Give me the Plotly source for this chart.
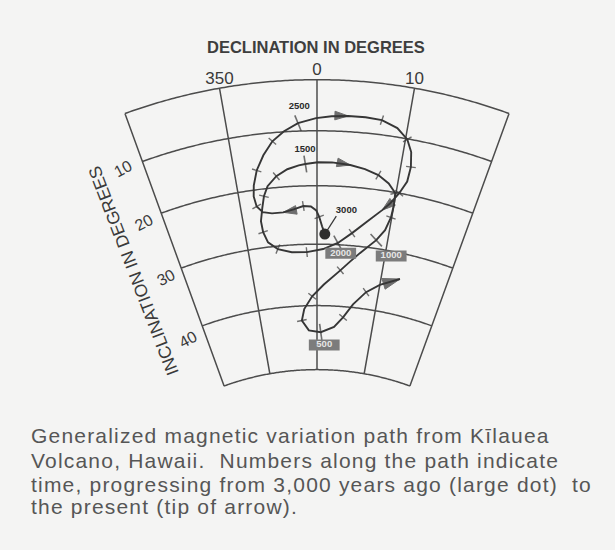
import numpy as np
import plotly.graph_objects as go

# ---------------- data ----------------
# Path of the geomagnetic field direction, 3000 yr ago (first point) -> present (last point)
# declination in degrees (east positive, 350 -> -10), inclination in degrees
path_dec = [1.1, 0.7, 0.3, -0.1, -0.8, -1.8, -3.1, -4.5, -6.0, -7.2,
            -7.9, -8.1, -7.9, -7.3, -6.3, -5.1, -3.7, -2.1, -0.1, 1.6,
            3.4, 5.3, 7.1, 8.9, 10.2, 10.9, 11.2, 11.1, 10.4, 9.5,
            8.6, 6.9, 4.9, 3.0, 0.9, -1.5, -3.7, -5.7, -7.0, -7.5,
            -7.6, -7.2, -6.8, -6.2, -5.0, -3.6, -2.2, -1.4, 0.1, 1.8,
            4.0, 5.8, 7.5, 8.9, 9.9, 10.0, 9.9, 9.4, 8.4, 6.3,
            3.6, 1.1, -0.8, -2.2, -2.7, -1.5, 0.7, 3.1, 4.6, 6.1,
            8.0, 10.0, 12.9]
path_inc = [28.3, 27.0, 25.4, 24.3, 23.6, 23.5, 24.0, 24.4, 24.4, 24.0,
            22.9, 21.1, 19.2, 16.6, 14.0, 11.6, 9.9, 8.5, 7.6, 7.2,
            7.0, 7.0, 7.2, 8.3, 10.1, 12.3, 15.0, 17.7, 20.0, 22.0,
            23.4, 25.6, 27.9, 29.7, 30.8, 31.3, 31.2, 30.5, 29.2, 27.4,
            25.5, 23.3, 21.3, 19.6, 18.0, 16.9, 16.3, 16.1, 15.8, 15.8,
            16.1, 16.6, 17.4, 18.6, 20.1, 22.2, 24.4, 26.7, 28.6, 31.1,
            34.2, 36.6, 38.5, 40.5, 42.3, 43.9, 44.2, 43.3, 41.7, 39.5,
            37.3, 35.8, 34.2]
# marks along the path: "" none, "t" small tick, "m" 500-yr tick, "a" arrow, "e" end arrow
path_mark = ["", "", "t", "", "", "t", "", "a", "", "",
             "t", "", "", "t", "", "t", "", "m", "", "",
             "a", "", "t", "", "t", "", "t", "", "t", "",
             "a", "", "t", "m", "", "t", "", "t", "", "t",
             "", "", "t", "", "t", "", "", "m", "", "",
             "a", "", "t", "", "t", "", "t", "", "m", "",
             "t", "", "t", "", "t", "", "m", "", "t", "",
             "t", "", "e"]

# year labels along the path
year_text = ["3000", "2500", "2000", "1500", "1000", "500"]
year_dec = [3.9, -1.9, 3.5, -1.4, 10.9, 1.4]
year_inc = [24.1, 5.4, 31.4, 13.4, 30.8, 46.2]
year_boxed = [False, False, True, False, True, True]
leader_3000 = [2.6, 25.2]   # end of the leader line from the large dot to its label

# grid / ticks
grid_dec = [-20, -10, 0, 10, 20]
grid_inc = [0, 10, 20, 30, 40, 50]
dec_tick_vals = [-10, 0, 10]
dec_tick_text = ["350", "0", "10"]
inc_tick_text = ["10", "20", "30", "40"]

caption_lines = [
    "Generalized magnetic variation path from K\u012blauea",
    "Volcano, Hawaii.\u00a0 Numbers along the path indicate",
    "time, progressing from 3,000 years ago (large dot)\u00a0 to",
    "the present (tip of arrow).",
]

# ---------------- style / layout positions ----------------
BG = "#f4f4f3"
INK = "#363636"
GRID = "#4c4c4c"
FONT = "Liberation Sans, Arial, sans-serif"

inc_label_x = [0.2005, 0.2341, 0.2699, 0.3052]
inc_label_y = [0.6940, 0.5951, 0.4958, 0.3831]
caption_y = [0.2073, 0.1636, 0.1200, 0.0782]

SYM = {"": "circle", "t": "line-ew", "m": "line-ew", "a": "arrow", "e": "arrow"}
SIZE = {"": 0, "t": 7, "m": 12, "a": 14, "e": 18}
LW = {"": 0, "t": 1.4, "m": 1.6, "a": 1, "e": 1}

# orientation of ticks / arrowheads: local path direction on the
# (south-pole centred) azimuthal equal-area map, clockwise from screen-up
lam = np.radians(path_dec)
rho = 2 * np.sin(np.radians(90 - np.array(path_inc)) / 2)
px_, py_ = rho * np.sin(lam), rho * np.cos(lam)
n = len(path_dec)
mark_angle = [0.0]
for k in range(1, n):
    j = min(k + 1, n - 1)
    mark_angle.append(float(np.degrees(np.arctan2(px_[j] - px_[k - 1], py_[j] - py_[k - 1]))))

fig = go.Figure()

# grid: meridians (declination) and parallels (inclination)
glon, glat = [], []
for d in grid_dec:
    glon += [d, d, None]
    glat += [-grid_inc[0], -grid_inc[-1], None]
arc = np.linspace(grid_dec[0], grid_dec[-1], 161)
for i in grid_inc:
    glon += list(arc) + [None]
    glat += [-i] * len(arc) + [None]
fig.add_trace(go.Scattergeo(lon=glon, lat=glat, mode="lines",
                            line=dict(color=GRID, width=1.5),
                            hoverinfo="skip", showlegend=False))

# leader line from the 3000-yr dot to its label
fig.add_trace(go.Scattergeo(lon=[path_dec[0], leader_3000[0]],
                            lat=[-path_inc[0], -leader_3000[1]],
                            mode="lines", line=dict(color=INK, width=1.2),
                            hoverinfo="skip", showlegend=False))

# the path with ticks and arrowheads
fig.add_trace(go.Scattergeo(
    lon=path_dec, lat=[-v for v in path_inc], mode="lines+markers",
    line=dict(color=INK, width=1.9),
    marker=dict(symbol=[SYM[m] for m in path_mark],
                size=[SIZE[m] for m in path_mark],
                angle=mark_angle, angleref="up", color=INK,
                line=dict(color=INK, width=[LW[m] for m in path_mark])),
    hoverinfo="skip", showlegend=False))

# large dot = 3000 years ago
fig.add_trace(go.Scattergeo(lon=[path_dec[0]], lat=[-path_inc[0]], mode="markers",
                            marker=dict(size=11, color="#2e2e2e"),
                            hoverinfo="skip", showlegend=False))

# grey boxes behind some year labels
bx = [k for k, b in enumerate(year_boxed) if b]
fig.add_trace(go.Scattergeo(lon=[year_dec[k] for k in bx], lat=[-year_inc[k] for k in bx],
                            mode="markers",
                            marker=dict(symbol="line-ew", size=22,
                                        line=dict(color="#7c7c7c", width=11)),
                            hoverinfo="skip", showlegend=False))

# year labels
fig.add_trace(go.Scattergeo(lon=year_dec, lat=[-v for v in year_inc], mode="text",
                            text=["<b>%s</b>" % t for t in year_text],
                            textposition="middle center",
                            textfont=dict(family=FONT, size=9.5,
                                          color=["#e6e6e6" if b else "#2a2a2a" for b in year_boxed]),
                            hoverinfo="skip", showlegend=False))

# declination tick labels
fig.add_trace(go.Scattergeo(lon=dec_tick_vals, lat=[-grid_inc[0]] * len(dec_tick_vals),
                            mode="text", text=dec_tick_text, textposition="top center",
                            textfont=dict(family=FONT, size=17, color="#3a3a3a"),
                            hoverinfo="skip", showlegend=False))

ann = []
for t, x, y in zip(inc_tick_text, inc_label_x, inc_label_y):
    ann.append(dict(text=t, x=x, y=y, xref="paper", yref="paper", showarrow=False,
                    xanchor="center", yanchor="middle", textangle=-28,
                    font=dict(family=FONT, size=16, color="#3a3a3a")))
ann.append(dict(text="INCLINATION IN DEGREES", x=0.2167, y=0.5076, xref="paper", yref="paper",
                showarrow=False, textangle=-111, xanchor="center", yanchor="middle",
                font=dict(family=FONT, size=17.5, color="#3a3a3a")))
ann.append(dict(text="<b>DECLINATION IN DEGREES</b>", x=0.5138, y=0.9145, xref="paper",
                yref="paper", showarrow=False, xanchor="center", yanchor="middle",
                font=dict(family=FONT, size=16.5, color="#3e3e3e")))
for t, y in zip(caption_lines, caption_y):
    ann.append(dict(text='<span style="letter-spacing:1.2px">%s</span>' % t,
                    x=0.047, y=y, xref="paper", yref="paper", showarrow=False,
                    xanchor="left", yanchor="middle",
                    font=dict(family=FONT, size=21, color="#565656")))

fig.update_layout(
    width=615, height=550, autosize=False,
    margin=dict(l=0, r=0, t=0, b=0),
    paper_bgcolor=BG, plot_bgcolor=BG, showlegend=False,
    annotations=ann,
    geo=dict(
        projection=dict(type="azimuthal equal area",
                        rotation=dict(lon=0, lat=-90, roll=0)),
        center=dict(lon=0, lat=-26.9),
        lonaxis=dict(range=[-21.5, 21.5], showgrid=False),
        lataxis=dict(range=[-52, 6], showgrid=False),
        domain=dict(x=[0.16374, 0.86715], y=[0.27182, 0.90745]),
        showframe=False, showcoastlines=False, showland=False, showocean=False,
        showlakes=False, showrivers=False, showcountries=False, showsubunits=False,
        bgcolor="rgba(0,0,0,0)",
    ),
)

fig.write_html("out.html", config={"displayModeBar": False},
               post_script="document.body.style.margin='0px';")
